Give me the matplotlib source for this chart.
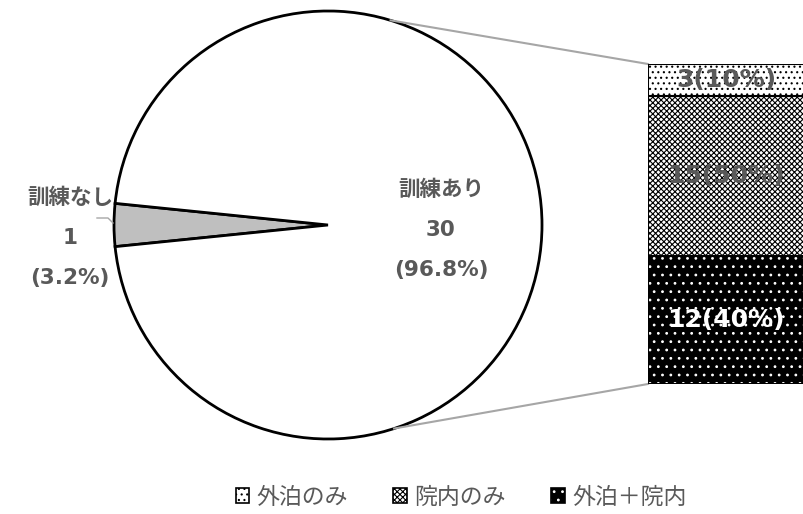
import numpy as np
import matplotlib
matplotlib.use("Agg")
import matplotlib.pyplot as plt
from matplotlib.patches import Patch

plt.rcParams['font.family'] = ['DejaVu Sans', 'Noto Sans CJK JP']
plt.rcParams['hatch.linewidth'] = 0.8

# 円グラフ（訓練の有無）
pie_labels = ['訓練なし', '訓練あり']
pie_counts = [1, 30]
# 棒グラフ（訓練ありの内訳）
bar_labels = ['外泊のみ', '院内のみ', '外泊＋院内']
bar_counts = [3, 15, 12]

GRAY = '#595959'
W, H = 804, 514

fig = plt.figure(figsize=(W / 100, H / 100), dpi=100)
ax = fig.add_axes([0, 0, 1, 1])

# 円の中心と半径（ピクセル）
cx, cy, r = 328, 225, 214
share = pie_counts[0] / sum(pie_counts)
start = 180 - share * 360 / 2
ax.pie(pie_counts, colors=['#bfbfbf', 'white'], startangle=start,
       center=(cx, cy), radius=r, frame=True,
       wedgeprops=dict(edgecolor='black', linewidth=2))
ax.set_xlim(0, W)
ax.set_ylim(H, 0)
ax.axis('off')

# ラベル
tot = sum(pie_counts)
ax.text(441, 230, f"{pie_labels[1]}\n{pie_counts[1]}\n({pie_counts[1] / tot * 100:.1f}%)",
        ha='center', va='center', fontsize=15.5, fontweight='bold', color=GRAY,
        linespacing=2.25)
ax.text(70, 238, f"{pie_labels[0]}\n{pie_counts[0]}\n({pie_counts[0] / tot * 100:.1f}%)",
        ha='center', va='center', fontsize=15.5, fontweight='bold', color=GRAY,
        linespacing=2.25)
ax.plot([97, 108, 113], [218, 218, 223], color='#a6a6a6', lw=1)

# 円から棒への接続線
a_top, a_bot = np.radians(73), np.radians(-72)
ax.plot([cx + r * np.cos(a_top), 648], [cy - r * np.sin(a_top), 64], color='#a6a6a6', lw=1.5)
ax.plot([cx + r * np.cos(a_bot), 648], [cy - r * np.sin(a_bot), 384], color='#a6a6a6', lw=1.5)

# 積み上げ棒
bax = fig.add_axes([648 / W, (H - 384) / H, 170 / W, 320 / H])
bax.set_xlim(0, 1)
bax.set_ylim(0, sum(bar_counts))
bax.axis('off')

faces = ['white', 'white', 'black']
hatches = ['...', 'xxxxxx', '..']
hcolors = ['black', 'black', 'white']
txtcolors = [GRAY, GRAY, 'white']

handles = []
bottom = 0
total_b = sum(bar_counts)
for i in [2, 1, 0]:
    v = bar_counts[i]
    bax.bar(0, v, bottom=bottom, width=1, align='edge', color=faces[i],
            hatch=hatches[i], edgecolor=hcolors[i], linewidth=0)
    bax.bar(0, v, bottom=bottom, width=1, align='edge', fill=False,
            edgecolor='black', linewidth=1.5)
    bax.text(0.459, bottom + v / 2, f"{v}({v / total_b * 100:.0f}%)",
             ha='center', va='center', fontsize=18, fontweight='bold',
             color=txtcolors[i])
    bottom += v

for i in range(3):
    h1 = Patch(facecolor=faces[i], hatch=hatches[i], edgecolor=hcolors[i], linewidth=0)
    h2 = Patch(fill=False, edgecolor='black', linewidth=1.2)
    handles.append((h1, h2))

fig.legend(handles, bar_labels, loc='center', bbox_to_anchor=(461 / W, 1 - 497 / H),
           ncol=3, frameon=False, handlelength=0.6, handleheight=0.6,
           handletextpad=0.3, columnspacing=2.0,
           prop=dict(family=['Noto Sans CJK JP', 'DejaVu Sans'], size=16.5),
           labelcolor=GRAY)

fig.savefig('out.png', dpi=100)
